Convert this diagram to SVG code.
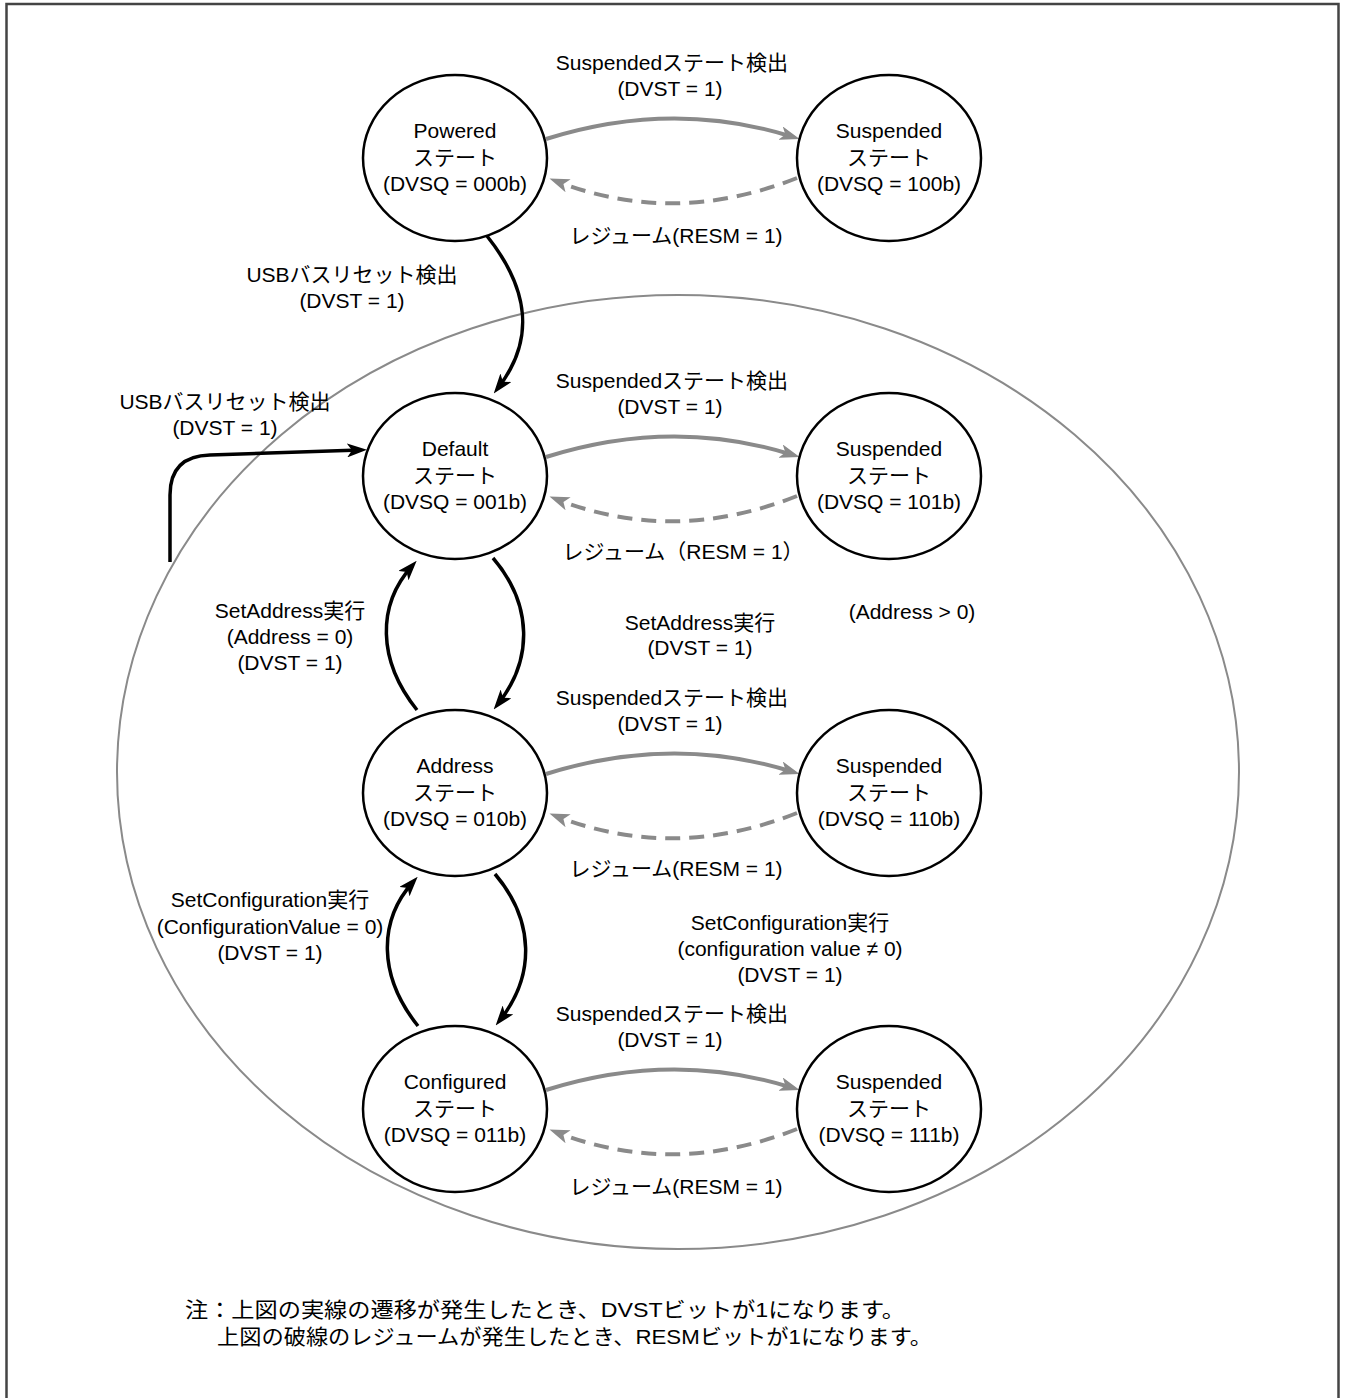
<svg xmlns="http://www.w3.org/2000/svg" width="1345" height="1398" viewBox="0 0 1345 1398">
<style>
text{font-family:"Liberation Sans",Arial,"Noto Sans CJK JP",sans-serif;font-size:21px;fill:#000;text-anchor:middle}
.node{fill:#fff;stroke:#000;stroke-width:2.5}
.blk{fill:none;stroke:#000;stroke-width:3.5;marker-end:url(#ab)}
.gs{fill:none;stroke:#8a8a8a;stroke-width:4;marker-end:url(#ag)}
.gd{fill:none;stroke:#8a8a8a;stroke-width:4;stroke-dasharray:15 9;marker-end:url(#ag)}
.note{text-anchor:start}
</style>
<defs>
<marker id="ab" markerUnits="userSpaceOnUse" viewBox="0 0 20 14" markerWidth="20" markerHeight="14" refX="13" refY="7" orient="auto"><path d="M0,0 L20,7 L0,14 L5,7 z" fill="#000" stroke="none"/></marker>
<marker id="ag" markerUnits="userSpaceOnUse" viewBox="0 0 20 14" markerWidth="20" markerHeight="14" refX="13" refY="7" orient="auto"><path d="M0,0 L20,7 L0,14 L5,7 z" fill="#8a8a8a" stroke="none"/></marker>
</defs>
<rect x="6.5" y="4" width="1332" height="1420" fill="#fff" stroke="#444" stroke-width="2.5"/>
<ellipse id="group-area" cx="678" cy="772" rx="561" ry="477" fill="none" stroke="#8a8a8a" stroke-width="2"/>

<g id="connectors">
<path class="gs" d="M546,139 Q673,99 793,137"/>
<path class="gd" d="M797,178 Q673,227 556,181"/>
<path class="gs" d="M546,457 Q673,417 793,455"/>
<path class="gd" d="M797,496 Q673,545 556,499"/>
<path class="gs" d="M546,774 Q673,734 793,772"/>
<path class="gd" d="M797,813 Q673,862 556,816"/>
<path class="gs" d="M546,1090 Q673,1050 793,1088"/>
<path class="gd" d="M797,1129 Q673,1178 556,1132"/>
<path class="blk" d="M487,236 C530,290 535,340 498,388"/>
<path class="blk" d="M170,562 L170,495 Q170,456 210,455 L360,450"/>
<path class="blk" d="M417,710 C377,660 377,605 412,566"/>
<path class="blk" d="M493,558 C533,605 533,660 498,704"/>
<path class="blk" d="M418,1026 C378,976 378,921 413,882"/>
<path class="blk" d="M495,874 C535,921 535,976 500,1020"/>
</g>

<g id="powered"><ellipse class="node" cx="455" cy="158" rx="92" ry="83"/><text x="455" y="138">Powered</text><text x="455" y="165">ステート</text><text x="455" y="191">(DVSQ = 000b)</text></g>
<g id="susp100"><ellipse class="node" cx="889" cy="158" rx="92" ry="83"/><text x="889" y="138">Suspended</text><text x="889" y="165">ステート</text><text x="889" y="191">(DVSQ = 100b)</text></g>
<g id="default"><ellipse class="node" cx="455" cy="476" rx="92" ry="83"/><text x="455" y="456">Default</text><text x="455" y="483">ステート</text><text x="455" y="509">(DVSQ = 001b)</text></g>
<g id="susp101"><ellipse class="node" cx="889" cy="476" rx="92" ry="83"/><text x="889" y="456">Suspended</text><text x="889" y="483">ステート</text><text x="889" y="509">(DVSQ = 101b)</text></g>
<g id="address"><ellipse class="node" cx="455" cy="793" rx="92" ry="83"/><text x="455" y="773">Address</text><text x="455" y="800">ステート</text><text x="455" y="826">(DVSQ = 010b)</text></g>
<g id="susp110"><ellipse class="node" cx="889" cy="793" rx="92" ry="83"/><text x="889" y="773">Suspended</text><text x="889" y="800">ステート</text><text x="889" y="826">(DVSQ = 110b)</text></g>
<g id="configured"><ellipse class="node" cx="455" cy="1109" rx="92" ry="83"/><text x="455" y="1089">Configured</text><text x="455" y="1116">ステート</text><text x="455" y="1142">(DVSQ = 011b)</text></g>
<g id="susp111"><ellipse class="node" cx="889" cy="1109" rx="92" ry="83"/><text x="889" y="1089">Suspended</text><text x="889" y="1116">ステート</text><text x="889" y="1142">(DVSQ = 111b)</text></g>

<g id="labels">
<text x="672" y="70">Suspendedステート検出</text><text x="670" y="96">(DVST = 1)</text>
<text x="676" y="243">レジューム(RESM = 1)</text>
<text x="672" y="388">Suspendedステート検出</text><text x="670" y="414">(DVST = 1)</text>
<text x="683" y="559">レジューム（RESM = 1）</text>
<text x="672" y="705">Suspendedステート検出</text><text x="670" y="731">(DVST = 1)</text>
<text x="676" y="876">レジューム(RESM = 1)</text>
<text x="672" y="1021">Suspendedステート検出</text><text x="670" y="1047">(DVST = 1)</text>
<text x="676" y="1194">レジューム(RESM = 1)</text>
<text x="352" y="282">USBバスリセット検出</text><text x="352" y="308">(DVST = 1)</text>
<text x="225" y="409">USBバスリセット検出</text><text x="225" y="435">(DVST = 1)</text>
<text x="290" y="618">SetAddress実行</text><text x="290" y="644">(Address = 0)</text><text x="290" y="670">(DVST = 1)</text>
<text x="700" y="630">SetAddress実行</text><text x="700" y="655">(DVST = 1)</text>
<text x="912" y="619">(Address &gt; 0)</text>
<text x="270" y="907">SetConfiguration実行</text><text x="270" y="934">(ConfigurationValue = 0)</text><text x="270" y="960">(DVST = 1)</text>
<text x="790" y="930">SetConfiguration実行</text><text x="790" y="956">(configuration value ≠ 0)</text><text x="790" y="982">(DVST = 1)</text>
<text class="note" x="185" y="1317" textLength="720" lengthAdjust="spacingAndGlyphs">注：上図の実線の遷移が発生したとき、DVSTビットが1になります。</text>
<text class="note" x="217" y="1344" textLength="715" lengthAdjust="spacingAndGlyphs">上図の破線のレジュームが発生したとき、RESMビットが1になります。</text>
</g>
</svg>
